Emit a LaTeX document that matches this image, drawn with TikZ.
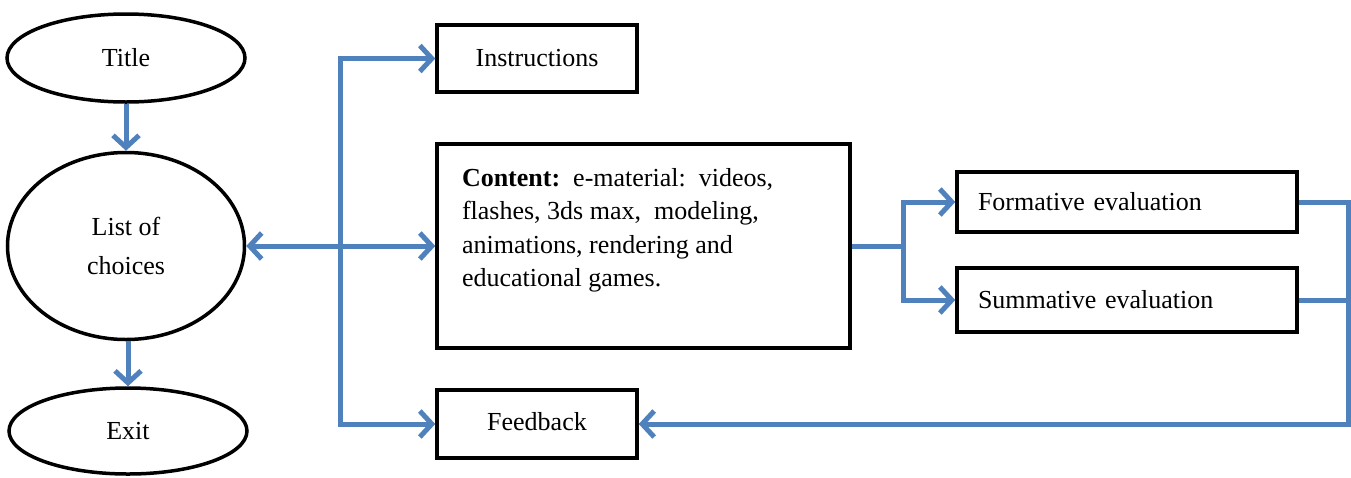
\documentclass[tikz,border=0pt]{standalone}
\usepackage{fontspec}
\setmainfont{Liberation Serif}
\usetikzlibrary{shapes.geometric,arrows.meta}
\definecolor{flowblue}{HTML}{4F81BD}
\tikzset{
  oval/.style={draw, ellipse, line width=3.5pt, inner sep=0pt, align=center},
  box/.style={draw, rectangle, line width=3.5pt, inner sep=0pt},
  flow/.style={draw=flowblue, line width=5pt},
  barb/.tip={Straight Barb[length=12pt,width=26pt,line width=5pt]},
  tip/.style={-barb},
}
\begin{document}
\begin{tikzpicture}[x=1pt,y=-1pt,font=\fontsize{26}{33.5}\selectfont]
\useasboundingbox (0,0) rectangle (1351,477);
\node[oval, minimum width=238pt, minimum height=88pt] (title) at (126,58) {Title};
\node[oval, minimum width=237pt, minimum height=187pt, font=\fontsize{26}{39}\selectfont] (list) at (126,246) {List of\\choices};
\node[oval, minimum width=238pt, minimum height=86pt] (exit) at (128,431) {Exit};
\node[box, minimum width=200pt, minimum height=67pt] (instr) at (537,58.5) {Instructions};
\node[box, inner xsep=25pt] (content) at (643.5,246)
  {\parbox[c][204pt][t]{363pt}{\vspace*{24pt}\textbf{Content:}\ \ e-material:\ \ videos,\\
  flashes, 3ds max,\ \ modeling,\\ animations, rendering and\\ educational games.}};
\node[box, minimum width=200pt, minimum height=68pt] (feedback) at (537,424) {\raisebox{6pt}{Feedback}};
\node[box, minimum width=340pt, minimum height=60pt, text width=298pt, align=left] (form) at (1127,202) {Formative evaluation};
\node[box, minimum width=340pt, minimum height=64pt, text width=298pt, align=left] (summ) at (1127,300) {Summative evaluation};
\coordinate (hub) at (340,246);
\coordinate (split) at (903,246);
\coordinate (rc) at (1348,424);
% left hub
\draw[flow, tip] (title.south) -- (list.north);
\draw[flow, tip] (exit.north |- list.south) -- (exit.north);
\draw[flow, barb-barb] (list.east) -- (content.west);
\draw[flow, tip] (hub) |- (instr.west);
\draw[flow, tip] (hub) |- (feedback.west);
% right part
\draw[flow] (content.east) -- (split);
\draw[flow, tip] (split) |- (form.west);
\draw[flow, tip] (split) |- (summ.west);
\draw[flow] (summ.east) -| (rc);
\draw[flow, tip] (form.east) -| (rc) -- (feedback.east);
\end{tikzpicture}
\end{document}
